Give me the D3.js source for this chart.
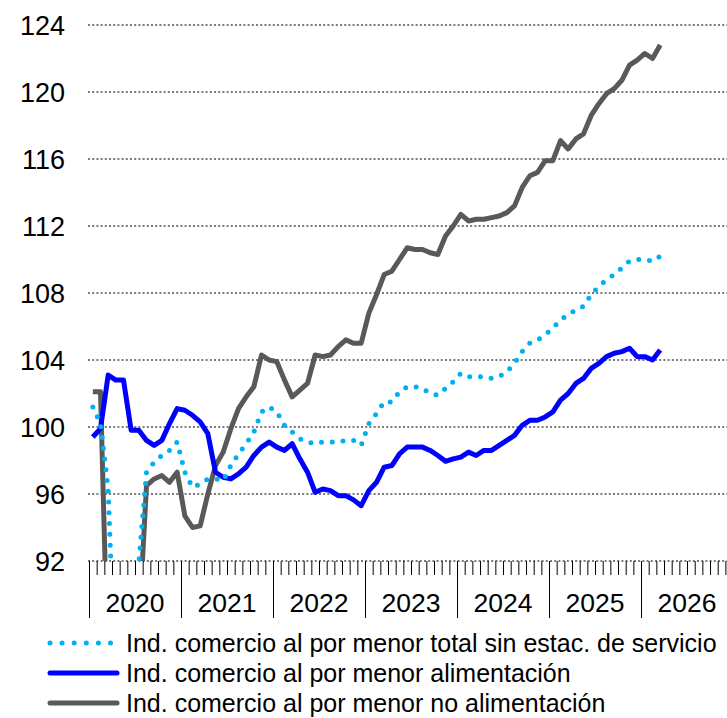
<!DOCTYPE html>
<html>
<head>
<meta charset="utf-8">
<script src="https://cdn.jsdelivr.net/npm/d3@7"></script>
<style>
  body { margin: 0; background: #fff; }
  text { font-family: "Liberation Sans", Arial, sans-serif; fill: #000; }
</style>
</head>
<body>
<div id="chart"></div>
<script>
// monthly data, Jan 2020 - Mar 2026
var years = [2020, 2021, 2022, 2023, 2024, 2025, 2026];
var yTicks = [92, 96, 100, 104, 108, 112, 116, 120, 124];

var totalSinEstac = [
  101.2, 100.2, 96.3, 84, 80, 86, 91.9, 97.3, 97.9, 98.3, 98.6, 99.1,
  97.3, 96.4, 96.6, 96.9, 96.9, 96.8, 97.7, 98.4, 99.0, 99.7, 100.9, 101.2,
  100.9, 100.1, 99.7, 99.3, 99.1, 99.0, 99.1, 99.1, 99.1, 99.2, 99.2, 98.9,
  100.2, 100.8, 101.5, 101.5, 102.1, 102.4, 102.4, 102.3, 102.0, 101.9, 102.3, 102.7,
  103.2, 103.0, 103.0, 103.0, 102.9, 103.0, 103.3, 103.8, 104.5, 105.0, 105.2, 105.5,
  105.9, 106.4, 106.7, 107.0, 107.2, 107.9, 108.4, 108.8, 109.1, 109.5, 109.9, 110.0,
  110.0, 109.9, 110.2
];
var alimentacion = [
  99.4, 99.9, 103.1, 102.8, 102.8, 99.8, 99.8, 99.2, 98.9, 99.2, 100.2, 101.1,
  101.0, 100.7, 100.3, 99.6, 97.3, 97.0, 96.9, 97.2, 97.6, 98.3, 98.8, 99.1,
  98.8, 98.6, 99.0, 98.1, 97.3, 96.1, 96.3, 96.2, 95.9, 95.9, 95.65, 95.3,
  96.2, 96.7, 97.6, 97.7, 98.4, 98.8, 98.8, 98.8, 98.6, 98.3, 97.95, 98.1,
  98.2, 98.5, 98.3, 98.6, 98.6, 98.9, 99.2, 99.5, 100.1, 100.4, 100.4, 100.6,
  100.9, 101.6, 102.0, 102.6, 102.9, 103.5, 103.8, 104.2, 104.4, 104.5, 104.7, 104.2,
  104.2, 104.0, 104.6
];
var noAlimentacion = [
  102.1, 102.1, 85, 68, 72, 83, 88, 96.5, 96.9, 97.1, 96.7, 97.3,
  94.7, 94.0, 94.1, 96.0, 97.7, 98.5, 99.9, 101.1, 101.8, 102.4, 104.3, 104.0,
  103.9, 102.8, 101.8, 102.2, 102.6, 104.3, 104.2, 104.3, 104.8, 105.2, 105.0, 105.0,
  106.8, 107.9, 109.1, 109.3, 110.0, 110.7, 110.6, 110.6, 110.4, 110.3, 111.4, 112.0,
  112.7, 112.3, 112.4, 112.4, 112.5, 112.6, 112.8, 113.2, 114.3, 115.0, 115.2, 115.9,
  115.9, 117.1, 116.6, 117.2, 117.5, 118.6, 119.3, 119.9, 120.2, 120.7, 121.6, 121.9,
  122.3, 122.0, 122.8
];

var seriesNames = [
  "Ind. comercio al por menor total sin estac. de servicio",
  "Ind. comercio al por menor alimentación",
  "Ind. comercio al por menor no alimentación"
];

var width = 727,
  height = 718;

var plotLeft = 89, plotRight = 727, plotTop = 25, plotBottom = 561;
var monthWidth = 7.667;
var nMonths = years.length * 12;

var svg = d3.select("#chart")
  .append("svg")
  .attr("width", width)
  .attr("height", height);

var x = d3.scaleLinear().domain([0, nMonths]).range([plotLeft, plotLeft + nMonths * monthWidth]);
var y = d3.scaleLinear().domain([92, 124]).range([plotBottom, plotTop]);

// gridlines
svg.append("g")
  .selectAll("line")
  .data(yTicks)
  .enter().append("line")
  .attr("x1", plotLeft - 1)
  .attr("x2", width)
  .attr("y1", function (d) { return y(d); })
  .attr("y2", function (d) { return y(d); })
  .attr("stroke", "#7a7a7a")
  .attr("stroke-width", 2)
  .attr("stroke-dasharray", "2,2.2");

// y labels
svg.append("g")
  .selectAll("text")
  .data(yTicks)
  .enter().append("text")
  .attr("x", 65)
  .attr("y", function (d) { return y(d); })
  .attr("dy", "0.36em")
  .attr("text-anchor", "end")
  .attr("font-size", "27px")
  .text(function (d) { return d; });

// month ticks
var monthAxis = d3.axisBottom(x)
  .tickValues(d3.range(0, nMonths + 1))
  .tickSize(14)
  .tickFormat("");

svg.append("g")
  .attr("transform", "translate(0," + plotBottom + ")")
  .call(monthAxis)
  .call(function (g) { g.select(".domain").remove(); })
  .selectAll("line")
  .attr("stroke", "#000")
  .attr("stroke-width", 1);

// year separators
var yearAxis = d3.axisBottom(x)
  .tickValues(d3.range(0, nMonths + 1, 12))
  .tickSize(57)
  .tickFormat("");

svg.append("g")
  .attr("transform", "translate(0," + plotBottom + ")")
  .call(yearAxis)
  .call(function (g) { g.select(".domain").remove(); })
  .selectAll("line")
  .attr("stroke", "#000")
  .attr("stroke-width", 1);

svg.append("g")
  .selectAll("text")
  .data(years)
  .enter().append("text")
  .attr("x", function (d, i) { return x(i * 12 + 6); })
  .attr("y", 612)
  .attr("text-anchor", "middle")
  .attr("font-size", "26.5px")
  .text(function (d) { return d; });

// clip plot area
svg.append("clipPath")
  .attr("id", "plot")
  .append("rect")
  .attr("x", plotLeft)
  .attr("y", 0)
  .attr("width", plotRight - plotLeft)
  .attr("height", plotBottom);

var line = d3.line()
  .x(function (d, i) { return x(i + 0.5); })
  .y(function (d) { return y(d); });

var plot = svg.append("g").attr("clip-path", "url(#plot)");

plot.append("path")
  .datum(noAlimentacion)
  .attr("d", line)
  .attr("fill", "none")
  .attr("stroke", "#595959")
  .attr("stroke-width", 5)
  .attr("stroke-linejoin", "round");

plot.append("path")
  .datum(alimentacion)
  .attr("d", line)
  .attr("fill", "none")
  .attr("stroke", "#0000ff")
  .attr("stroke-width", 5)
  .attr("stroke-linejoin", "round");

plot.append("path")
  .datum(totalSinEstac)
  .attr("d", line)
  .attr("fill", "none")
  .attr("stroke", "#00b0f0")
  .attr("stroke-width", 5)
  .attr("stroke-linecap", "round")
  .attr("stroke-dasharray", "0,10.8");

// legend
var legendStyles = [
  { color: "#00b0f0", dash: "0,12.1", x1: 50, x2: 112 },
  { color: "#0000ff", dash: null, x1: 50, x2: 117 },
  { color: "#595959", dash: null, x1: 50, x2: 117 }
];

var legend = svg.append("g")
  .selectAll("g")
  .data(seriesNames)
  .enter().append("g")
  .attr("transform", function (d, i) { return "translate(0," + (643 + i * 30) + ")"; });

legend.append("line")
  .attr("x1", function (d, i) { return legendStyles[i].x1; })
  .attr("x2", function (d, i) { return legendStyles[i].x2; })
  .attr("stroke", function (d, i) { return legendStyles[i].color; })
  .attr("stroke-width", 5)
  .attr("stroke-linecap", "round")
  .attr("stroke-dasharray", function (d, i) { return legendStyles[i].dash; });

legend.append("text")
  .attr("x", 126)
  .attr("dy", "0.36em")
  .attr("font-size", "25px")
  .text(function (d) { return d; });
</script>
</body>
</html>
